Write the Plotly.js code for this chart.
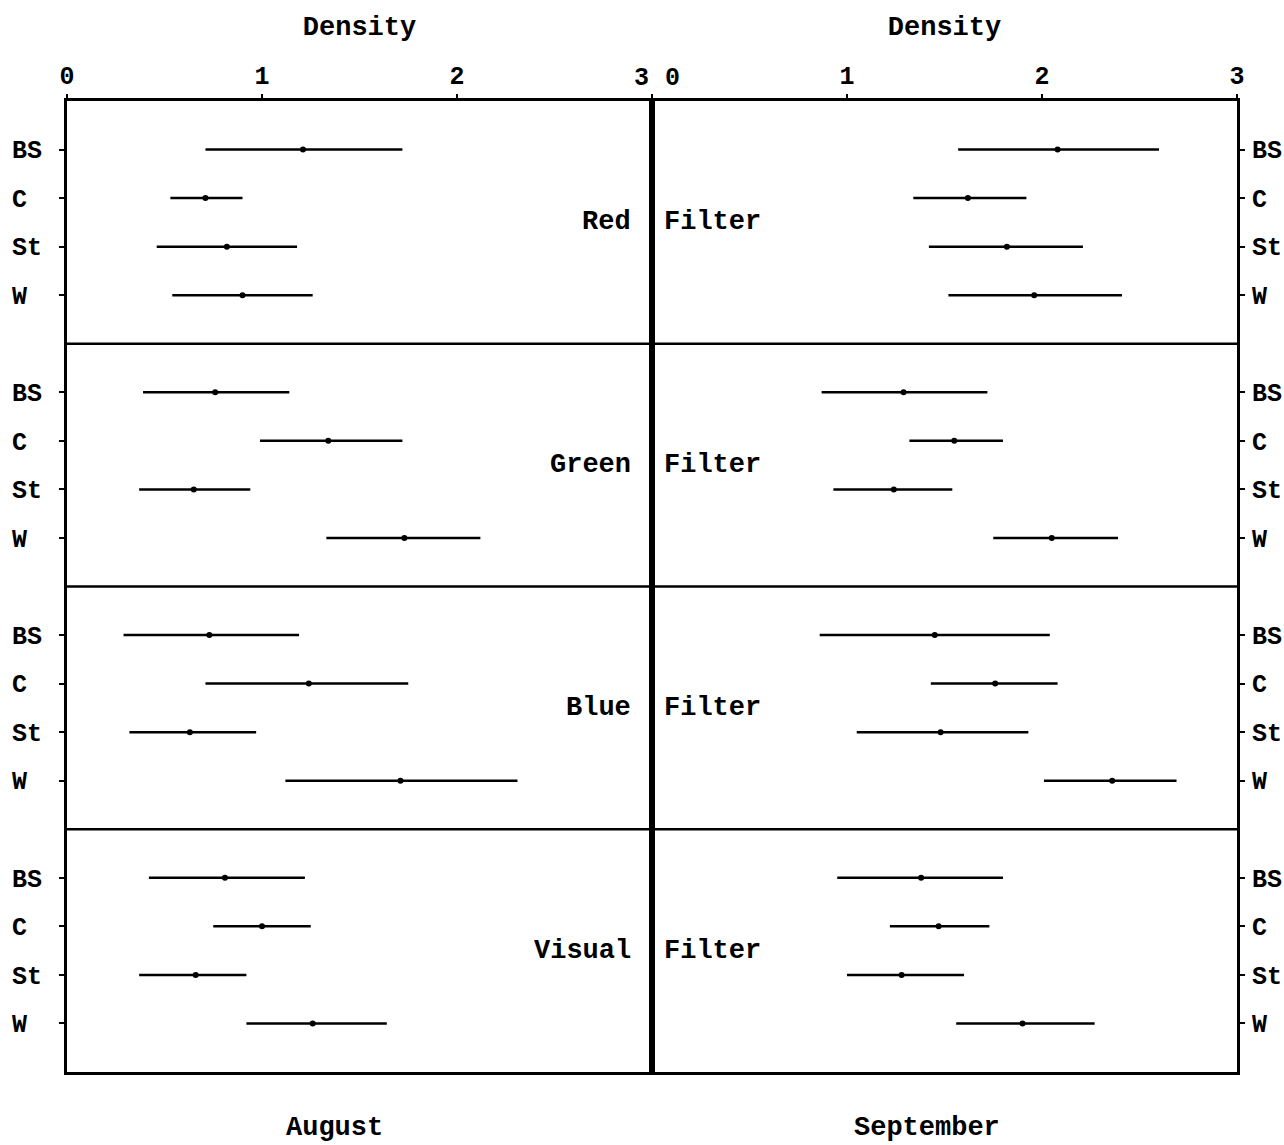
<!DOCTYPE html>
<html>
<head>
<meta charset="utf-8">
<script src="https://cdn.plot.ly/plotly-3.0.1.min.js"></script>
<style>html,body{margin:0;padding:0;background:#fff;}#chart{width:1284px;height:1145px;}</style>
</head>
<body>
<div id="chart"></div>
<script>
// ---- data ----
const filters = ['Red', 'Green', 'Blue', 'Visual'];
const categories = ['BS', 'C', 'St', 'W'];
const densityTicks = [0, 1, 2, 3];
const months = ['August', 'September'];

// August: rows = filters, columns = categories
const augLow  = [[0.71, 0.53, 0.46, 0.54], [0.39, 0.99, 0.37, 1.33], [0.29, 0.71, 0.32, 1.12], [0.42, 0.75, 0.37, 0.92]];
const augMean = [[1.21, 0.71, 0.82, 0.90], [0.76, 1.34, 0.65, 1.73], [0.73, 1.24, 0.63, 1.71], [0.81, 1.00, 0.66, 1.26]];
const augHigh = [[1.72, 0.90, 1.18, 1.26], [1.14, 1.72, 0.94, 2.12], [1.19, 1.75, 0.97, 2.31], [1.22, 1.25, 0.92, 1.64]];

// September
const sepLow  = [[1.57, 1.34, 1.42, 1.52], [0.87, 1.32, 0.93, 1.75], [0.86, 1.43, 1.05, 2.01], [0.95, 1.22, 1.00, 1.56]];
const sepMean = [[2.08, 1.62, 1.82, 1.96], [1.29, 1.55, 1.24, 2.05], [1.45, 1.76, 1.48, 2.36], [1.38, 1.47, 1.28, 1.90]];
const sepHigh = [[2.60, 1.92, 2.21, 2.41], [1.72, 1.80, 1.54, 2.39], [2.04, 2.08, 1.93, 2.69], [1.80, 1.73, 1.60, 2.27]];

// ---- build ----
const FONT = 'Liberation Mono, DejaVu Sans Mono, monospace';
const ROW = categories.length + 1;
function yPos(r, k) { return r * ROW + k + 1; }

function makeTrace(low, mean, high, xa, ya) {
  const x = [], y = [], plus = [], minus = [];
  filters.forEach((f, r) => {
    categories.forEach((c, k) => {
      x.push(mean[r][k]);
      y.push(yPos(r, k));
      plus.push(high[r][k] - mean[r][k]);
      minus.push(mean[r][k] - low[r][k]);
    });
  });
  return {
    type: 'scatter', mode: 'markers', x: x, y: y, xaxis: xa, yaxis: ya,
    marker: {color: '#000', size: 6},
    error_x: {type: 'data', symmetric: false, array: plus, arrayminus: minus,
              color: '#000', thickness: 2.5, width: 0},
    hoverinfo: 'x+y', showlegend: false
  };
}

const tickvals = [], tickLeft = [], tickRight = [];
filters.forEach((f, r) => categories.forEach((c, k) => {
  tickvals.push(yPos(r, k));
  tickLeft.push(c.padEnd(2, '\u00A0'));
  tickRight.push(c);
}));

const yMax = filters.length * ROW;

const tickFont = {family: FONT, size: 25, color: '#000', weight: 'bold'};
const textFont = {family: FONT, size: 27, color: '#000', weight: 'bold'};

const xCommon = {
  range: [0, 3], side: 'top', showgrid: false, zeroline: false,
  showline: true, mirror: true, linewidth: 3, linecolor: '#000',
  ticks: 'outside', ticklen: 4, tickwidth: 2, tickcolor: '#000',
  tickvals: densityTicks, tickfont: tickFont,
  title: {text: 'Density', font: textFont, standoff: 20},
  fixedrange: true, automargin: false
};

const yCommon = {
  range: [yMax, 0], showgrid: false, zeroline: false,
  showline: true, mirror: true, linewidth: 3, linecolor: '#000',
  ticks: 'outside', ticklen: 5, tickwidth: 2, tickcolor: '#000',
  tickvals: tickvals, tickfont: {family: FONT, size: 25, color: '#000', weight: 'bold'},
  fixedrange: true, automargin: false
};

// the shared "3 | 0" labels at the panel join are drawn as shifted annotations
const lastTick = densityTicks[densityTicks.length - 1];
const firstTick = densityTicks[0];
const leftTicks = densityTicks.map(v => v === lastTick ? '' : String(v));
const rightTicks = densityTicks.map(v => v === firstTick ? '' : String(v));

const shapes = [];
for (let r = 1; r < filters.length; r++) {
  shapes.push({type: 'line', xref: 'paper', yref: 'y', x0: 0, x1: 1, y0: r * ROW, y1: r * ROW,
               line: {color: '#000', width: 2.5}});
}

const annotations = [];
annotations.push({xref: 'x', yref: 'paper', x: lastTick, y: 1, xanchor: 'center', yanchor: 'middle',
                  xshift: -11, yshift: 23, text: String(lastTick), showarrow: false, font: tickFont});
annotations.push({xref: 'x2', yref: 'paper', x: firstTick, y: 1, xanchor: 'center', yanchor: 'middle',
                  xshift: 20, yshift: 23, text: String(firstTick), showarrow: false, font: tickFont});
filters.forEach((f, r) => {
  annotations.push({xref: 'x', yref: 'y', x: 2.9, y: r * ROW + 2.5, xanchor: 'right', yanchor: 'middle',
                    text: f, showarrow: false, font: textFont});
  annotations.push({xref: 'x2', yref: 'y2', x: 0.05, y: r * ROW + 2.5, xanchor: 'left', yanchor: 'middle',
                    text: 'Filter', showarrow: false, font: textFont});
});
annotations.push({xref: 'paper', yref: 'paper', x: 0.229, y: -0.058, xanchor: 'center', yanchor: 'middle',
                  text: months[0], showarrow: false, font: textFont});
annotations.push({xref: 'paper', yref: 'paper', x: 0.735, y: -0.058, xanchor: 'center', yanchor: 'middle',
                  text: months[1], showarrow: false, font: textFont});

const layout = {
  width: 1284, height: 1145,
  margin: {l: 67, r: 47, t: 101, b: 73},
  paper_bgcolor: '#fff', plot_bgcolor: '#fff',
  font: {family: FONT, color: '#000'},
  xaxis: Object.assign({}, xCommon, {domain: [0, 0.5], anchor: 'y', ticktext: leftTicks}),
  xaxis2: Object.assign({}, xCommon, {domain: [0.5, 1], anchor: 'y2', ticktext: rightTicks}),
  yaxis: Object.assign({}, yCommon, {anchor: 'x', side: 'left', ticktext: tickLeft, ticklabelstandoff: 12}),
  yaxis2: Object.assign({}, yCommon, {anchor: 'x2', side: 'right', matches: 'y', ticktext: tickRight, ticklabelstandoff: 2}),
  shapes: shapes, annotations: annotations, showlegend: false
};

Plotly.newPlot('chart', [
  makeTrace(augLow, augMean, augHigh, 'x', 'y'),
  makeTrace(sepLow, sepMean, sepHigh, 'x2', 'y2')
], layout, {displayModeBar: false, staticPlot: true});
</script>
</body>
</html>
